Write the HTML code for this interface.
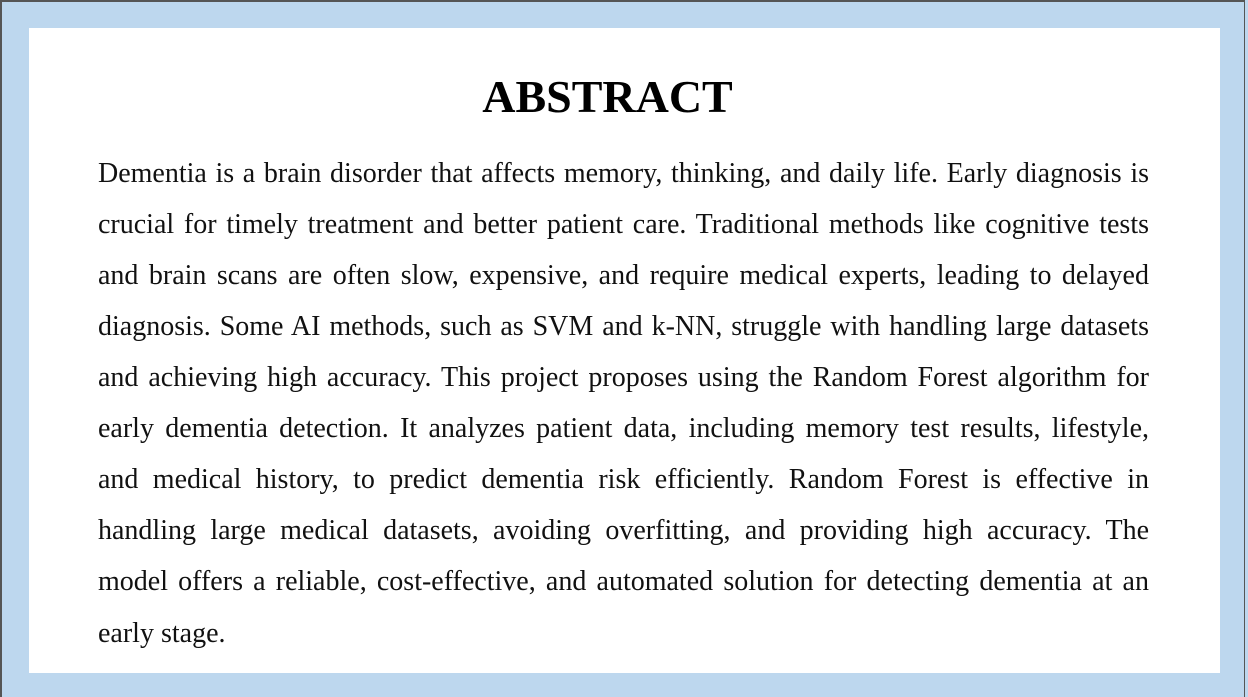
<!DOCTYPE html>
<html><head><meta charset="utf-8"><style>
html,body{margin:0;padding:0}
body{width:1248px;height:697px;position:relative;background:#bdd7ee;overflow:hidden;font-family:"Liberation Serif",serif}
#frame{position:absolute;left:0;top:0;width:1245px;height:697px;border-left:2px solid #555;border-top:2px solid #555;border-right:1px solid #555;box-sizing:border-box}
#slide{position:absolute;left:29px;top:28px;width:1191px;height:645px;background:#fff}
h1{position:absolute;left:0;width:1215px;top:70px;margin:0;text-align:center;font-size:46px;font-weight:bold;line-height:54px;color:#000}
.ln{position:absolute;left:98px;width:1051px;font-size:28px;line-height:30px;color:#111;text-align:justify;text-align-last:justify;white-space:nowrap}
.last{text-align-last:left}
</style></head><body>
<div id="frame"></div>
<div id="slide"></div>
<h1>ABSTRACT</h1>
<div>
<div class="ln" style="top:159px">Dementia is a brain disorder that affects memory, thinking, and daily life. Early diagnosis is</div>
<div class="ln" style="top:210px">crucial for timely treatment and better patient care. Traditional methods like cognitive tests</div>
<div class="ln" style="top:261px">and brain scans are often slow, expensive, and require medical experts, leading to delayed</div>
<div class="ln" style="top:312px">diagnosis. Some AI methods, such as SVM and k-NN, struggle with handling large datasets</div>
<div class="ln" style="top:363px">and achieving high accuracy. This project proposes using the Random Forest algorithm for</div>
<div class="ln" style="top:414px">early dementia detection. It analyzes patient data, including memory test results, lifestyle,</div>
<div class="ln" style="top:465px">and medical history, to predict dementia risk efficiently. Random Forest is effective in</div>
<div class="ln" style="top:516px">handling large medical datasets, avoiding overfitting, and providing high accuracy. The</div>
<div class="ln" style="top:567px">model offers a reliable, cost-effective, and automated solution for detecting dementia at an</div>
<div class="ln last" style="top:619px">early stage.</div>
</div>
</body></html>
